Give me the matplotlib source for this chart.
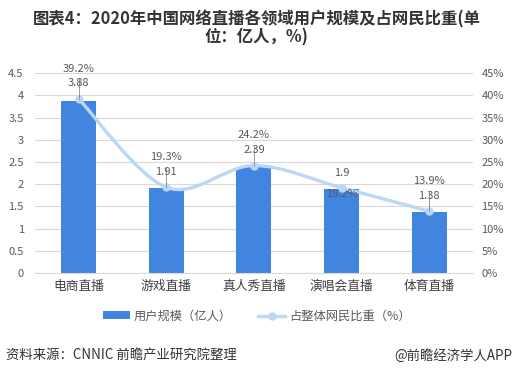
import numpy as np
import matplotlib
matplotlib.use("Agg")
import matplotlib.pyplot as plt
from matplotlib.path import Path
from matplotlib.patches import PathPatch, Patch
from matplotlib.lines import Line2D

plt.rcParams['font.family'] = ['Noto Sans CJK SC', 'DejaVu Sans']

# 数据
categories = ['电商直播', '游戏直播', '真人秀直播', '演唱会直播', '体育直播']
users = [3.88, 1.91, 2.39, 1.9, 1.38]          # 用户规模（亿人）
share = [39.2, 19.3, 24.2, 19.2, 13.9]          # 占整体网民比重（%）
left_ticks = [0, 0.5, 1, 1.5, 2, 2.5, 3, 3.5, 4, 4.5]
right_ticks = [0, 5, 10, 15, 20, 25, 30, 35, 40, 45]

bar_color = '#4285e0'
line_color = '#bcd6f6'
text_color = '#595959'

fig = plt.figure(figsize=(5.13, 3.75), dpi=100)
ax = fig.add_axes([0.068, 0.272, 0.854, 0.533])
ax2 = ax.twinx()

x = np.arange(len(categories))
ax.bar(x, users, width=0.4, color=bar_color, zorder=2)
ax.set_xlim(-0.5, len(categories) - 0.5)
ax.set_ylim(0, 4.5)
ax.set_yticks(left_ticks)
ax.set_yticklabels([('%g' % t) for t in left_ticks])
ax.set_xticks(x)
ax.set_xticklabels(categories, fontsize=9.2, color='#404040')
ax.grid(axis='y', color='#d9d9d9', lw=0.8, zorder=0)
ax.set_axisbelow(True)
ax.tick_params(axis='y', length=0, labelsize=8, labelcolor=text_color, pad=8)
ax.tick_params(axis='x', length=0, pad=5)
for s in ['top', 'left', 'right']:
    ax.spines[s].set_visible(False)
ax.spines['bottom'].set_color('#d9d9d9')

ax2.set_ylim(0, 45)
ax2.set_yticks(right_ticks)
ax2.set_yticklabels(['%d%%' % t for t in right_ticks])
ax2.tick_params(axis='y', length=0, labelsize=8, labelcolor=text_color, pad=6)
for s in ['top', 'left', 'right', 'bottom']:
    ax2.spines[s].set_visible(False)

# 平滑曲线 (Catmull-Rom -> Bezier)
pts = np.column_stack([x, share]).astype(float)
ext = np.vstack([pts[0], pts, pts[-1]])
verts = [tuple(pts[0])]
codes = [Path.MOVETO]
for i in range(len(pts) - 1):
    p0, p1, p2, p3 = ext[i], ext[i + 1], ext[i + 2], ext[i + 3]
    c1 = p1 + (p2 - p0) / 6
    c2 = p2 - (p3 - p1) / 6
    verts += [tuple(c1), tuple(c2), tuple(p2)]
    codes += [Path.CURVE4] * 3
ax2.add_patch(PathPatch(Path(verts, codes), fill=False, edgecolor=line_color,
                        lw=2.4, zorder=3, capstyle='round'))
ax2.plot(x, share, 'o', color=line_color, markersize=5, zorder=4)

# 数据标签
for i in range(len(categories)):
    if i == 3:
        ax2.text(x[i], share[i] + 2.2, '%g' % users[i], ha='center', va='bottom',
                 fontsize=8, color=text_color)
        ax2.text(x[i], share[i] - 0.2, '%.1f%%' % share[i], ha='center', va='top',
                 fontsize=8, color=text_color)
    else:
        ax2.plot([x[i], x[i]], [share[i], share[i] + 4.5], color='#8c8c8c', lw=0.6, zorder=5)
        ax2.text(x[i], share[i] + 2.4, '%g' % users[i], ha='center', va='bottom',
                 fontsize=8, color=text_color, zorder=6)
        ax2.text(x[i], share[i] + 5.7, '%.1f%%' % share[i], ha='center', va='bottom',
                 fontsize=8, color=text_color, zorder=6)

# 标题
fig.text(0.5, 0.972, '图表4：2020年中国网络直播各领域用户规模及占网民比重(单\n位：亿人，%)',
         ha='center', va='top', fontsize=11.8, fontweight='bold', color='#333333',
         linespacing=1.0)

# 图例
handles = [Patch(facecolor=bar_color, label='用户规模（亿人）'),
           Line2D([0], [0], color=line_color, lw=2.4, marker='o', markersize=5,
                  label='占整体网民比重（%）')]
fig.legend(handles=handles, loc='center', bbox_to_anchor=(0.5, 0.157), ncol=2,
           frameon=False, fontsize=8.8, labelcolor=text_color, handlelength=2.2,
           handleheight=0.6, columnspacing=2.2, handletextpad=0.3)

# 来源
fig.text(0.012, 0.052, '资料来源：CNNIC 前瞻产业研究院整理', ha='left', va='center',
         fontsize=9.6, color='#333333')
fig.text(0.998, 0.052, '@前瞻经济学人APP', ha='right', va='center',
         fontsize=9.6, color='#333333')

fig.savefig('out.png', dpi=100)
